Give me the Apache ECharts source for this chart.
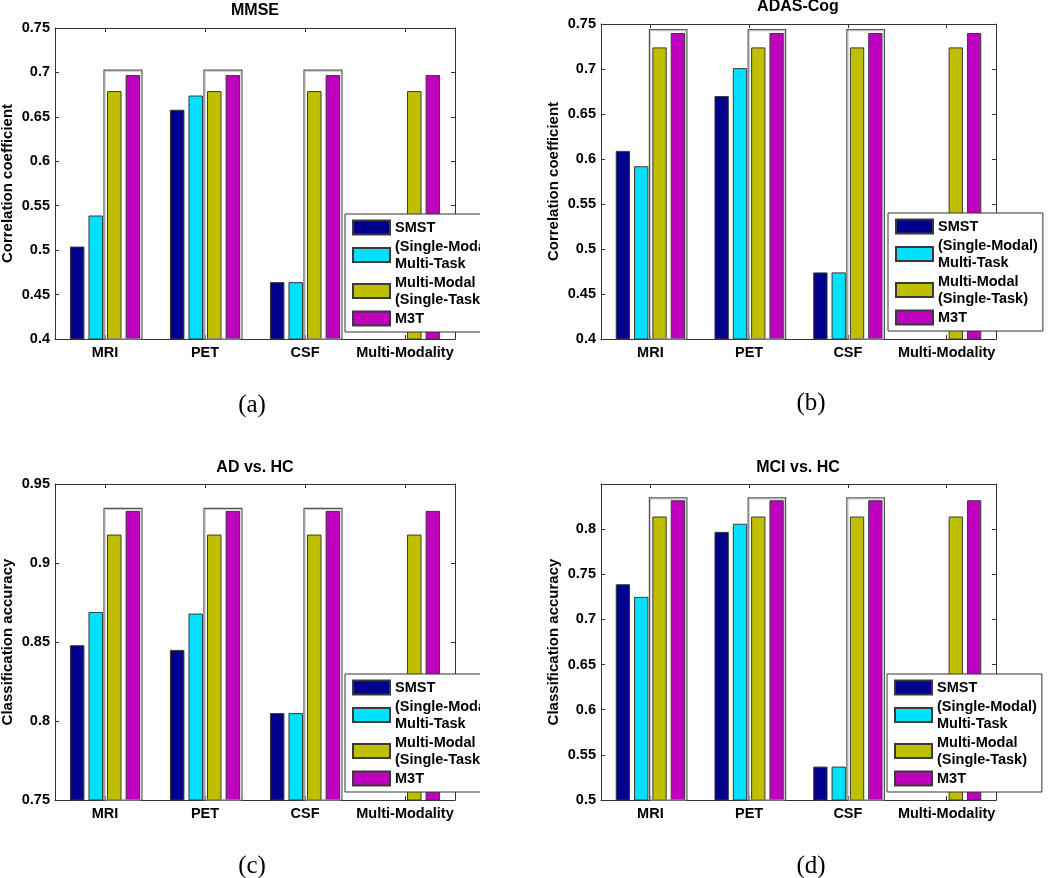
<!DOCTYPE html>
<html>
<head>
<meta charset="utf-8">
<script src="https://cdn.jsdelivr.net/npm/echarts@6/dist/echarts.min.js"></script>
<style>
  html, body { margin: 0; padding: 0; background: #fff; }
  body { width: 1050px; height: 878px; position: relative; overflow: hidden; }
  .panel { position: absolute; }
</style>
</head>
<body>
<div id="pa" class="panel" style="left:0;top:0;width:480px;height:432px;"></div>
<div id="pb" class="panel" style="left:520px;top:0;width:530px;height:432px;"></div>
<div id="pc" class="panel" style="left:0;top:435px;width:480px;height:443px;"></div>
<div id="pd" class="panel" style="left:520px;top:435px;width:530px;height:443px;"></div>
<script>
// ---------------- data ----------------
const CATEGORIES = ['MRI', 'PET', 'CSF', 'Multi-Modality'];
const SERIES_NAMES = ['SMST', '(Single-Modal)\nMulti-Task', 'Multi-Modal\n(Single-Task)', 'M3T'];

// (a) MMSE
const MMSE_SMST = [0.504, 0.658, 0.464, null];
const MMSE_MT   = [0.539, 0.674, 0.464, null];
const MMSE_MM   = [0.679, 0.679, 0.679, 0.679];
const MMSE_M3T  = [0.697, 0.697, 0.697, 0.697];
const MMSE_BOX  = [0.7026, 0.7026, 0.7026];   // highlight boxes on MRI, PET, CSF
const MMSE_YRANGE = [0.4, 0.75];

// (b) ADAS-Cog
const ADAS_SMST = [0.609, 0.670, 0.474, null];
const ADAS_MT   = [0.592, 0.701, 0.474, null];
const ADAS_MM   = [0.724, 0.724, 0.724, 0.724];
const ADAS_M3T  = [0.740, 0.740, 0.740, 0.740];
const ADAS_BOX  = [0.7437, 0.7437, 0.7437];
const ADAS_YRANGE = [0.4, 0.75];

// (c) AD vs. HC
const ADHC_SMST = [0.848, 0.845, 0.805, null];
const ADHC_MT   = [0.869, 0.868, 0.805, null];
const ADHC_MM   = [0.918, 0.918, 0.918, 0.918];
const ADHC_M3T  = [0.933, 0.933, 0.933, 0.933];
const ADHC_BOX  = [0.9346, 0.9346, 0.9346];
const ADHC_YRANGE = [0.75, 0.95];

// (d) MCI vs. HC
const MCIHC_SMST = [0.739, 0.797, 0.537, null];
const MCIHC_MT   = [0.725, 0.806, 0.537, null];
const MCIHC_MM   = [0.814, 0.814, 0.814, 0.814];
const MCIHC_M3T  = [0.832, 0.832, 0.832, 0.832];
const MCIHC_BOX  = [0.8346, 0.8346, 0.8346];
const MCIHC_YRANGE = [0.5, 0.85];

const Y_INTERVAL = 0.05;

// ---------------- styles ----------------
const COLORS = ['#00008c', '#00e1ff', '#bfbf00', '#bf00bf'];
const FONT = 'Liberation Sans';
const AXIS_COLOR = '#333';

function makePanel(domId, p) {
  const chart = echarts.init(document.getElementById(domId), null, { renderer: 'canvas' });
  const yMin = p.yRange[0], yMax = p.yRange[1];
  const values = [p.smst, p.mt, p.mm, p.m3t];
  const labelStyle = { fontFamily: FONT, fontWeight: 'bold', fontSize: 14.5, color: '#000' };

  const bars = values.map((v, i) => ({
    name: SERIES_NAMES[i],
    type: 'bar',
    data: v,
    barWidth: '14.5%',
    barGap: '28%',
    xAxisIndex: 0, yAxisIndex: 0,
    itemStyle: { color: COLORS[i], borderColor: '#3a3a3a', borderWidth: 1 },
    emphasis: { disabled: true },
    animation: false
  }));

  const boxSeries = {
    type: 'custom',
    xAxisIndex: 0, yAxisIndex: 0,
    data: p.box.map((v, i) => [i, v]),
    encode: { x: 0, y: 1 },
    z: 3,
    silent: true,
    animation: false,
    renderItem: function (params, api) {
      const idx = api.value(0);
      const top = api.coord([idx, api.value(1)]);
      const bottom = api.coord([idx, yMin]);
      const band = api.size([1, 0])[0];
      const x0 = top[0] - 0.01 * band;
      const x1 = top[0] + 0.37 * band;
      return {
        type: 'group',
        children: [
          { type: 'rect', shape: { x: x0, y: top[1], width: x1 - x0, height: bottom[1] - top[1] },
            style: { fill: 'none', stroke: '#555', lineWidth: 1.2 } },
          { type: 'rect', shape: { x: x0 + 1.2, y: top[1] + 1.2, width: x1 - x0 - 2.4, height: bottom[1] - top[1] - 1.2 },
            style: { fill: 'none', stroke: '#bbb', lineWidth: 0.8 } }
        ]
      };
    }
  };

  const option = {
    animation: false,
    backgroundColor: '#fff',
    grid: { left: p.grid[0], top: p.grid[1], width: p.grid[2], height: p.grid[3], containLabel: false, outerBoundsMode: 'none' },
    legend: {
      data: SERIES_NAMES,
      orient: 'vertical',
      left: p.legend[0], top: p.legend[1],
      padding: [5, 5, 5, 7],
      itemGap: 2,
      itemWidth: 37, itemHeight: 14,
      icon: 'rect',
      selectedMode: false,
      backgroundColor: '#fff',
      borderColor: '#333', borderWidth: 1, borderRadius: 0,
      textStyle: { fontFamily: FONT, fontWeight: 'bold', fontSize: 14.5, lineHeight: 17, color: '#000' },
      z: 10
    },
    xAxis: [
      { type: 'category', data: CATEGORIES, position: 'bottom',
        axisLine: { show: true, lineStyle: { color: AXIS_COLOR, width: 1 } },
        axisTick: { show: true, inside: true, alignWithLabel: true, length: 4, lineStyle: { color: AXIS_COLOR } },
        axisLabel: Object.assign({ margin: 6, interval: 0 }, labelStyle),
        splitLine: { show: false } },
      { type: 'category', data: CATEGORIES, position: 'top',
        axisLine: { show: true, lineStyle: { color: AXIS_COLOR, width: 1 } },
        axisTick: { show: true, inside: true, alignWithLabel: true, length: 4, lineStyle: { color: AXIS_COLOR } },
        axisLabel: { show: false },
        splitLine: { show: false } }
    ],
    yAxis: [
      { type: 'value', min: yMin, max: yMax, interval: Y_INTERVAL, position: 'left',
        name: p.yName, nameLocation: 'middle', nameGap: 40, nameMoveOverlap: false,
        nameTextStyle: { fontFamily: FONT, fontWeight: 'bold', fontSize: 15, color: '#000' },
        axisLine: { show: true, lineStyle: { color: AXIS_COLOR, width: 1 } },
        axisTick: { show: true, inside: true, length: 4, lineStyle: { color: AXIS_COLOR } },
        axisLabel: Object.assign({ margin: 5, showMaxLabel: p.showMaxLabel !== false }, labelStyle),
        splitLine: { show: false } },
      { type: 'value', min: yMin, max: yMax, interval: Y_INTERVAL, position: 'right',
        axisLine: { show: true, lineStyle: { color: AXIS_COLOR, width: 1 } },
        axisTick: { show: true, inside: true, length: 4, lineStyle: { color: AXIS_COLOR } },
        axisLabel: { show: false },
        splitLine: { show: false } }
    ],
    graphic: [
      { type: 'text', x: p.title[1], y: p.title[2], silent: true,
        style: { text: p.title[0], font: 'bold 16px "' + FONT + '"', fill: '#000',
                 textAlign: 'center', textVerticalAlign: 'middle', align: 'center', verticalAlign: 'middle' } },
      { type: 'text', x: p.caption[1], y: p.caption[2], silent: true,
        style: { text: p.caption[0], font: '25px "Liberation Serif"', fill: '#000',
                 textAlign: 'center', textVerticalAlign: 'middle', align: 'center', verticalAlign: 'middle' } }
    ],
    series: bars.concat([boxSeries])
  };
  chart.setOption(option);
  return chart;
}

makePanel('pa', {
  smst: MMSE_SMST, mt: MMSE_MT, mm: MMSE_MM, m3t: MMSE_M3T, box: MMSE_BOX, yRange: MMSE_YRANGE,
  yName: 'Correlation coefficient', grid: [55, 28, 400, 311], legend: [345, 214],
  title: ['MMSE', 255, 11], caption: ['(a)', 252, 405]
});
makePanel('pb', {
  smst: ADAS_SMST, mt: ADAS_MT, mm: ADAS_MM, m3t: ADAS_M3T, box: ADAS_BOX, yRange: ADAS_YRANGE,
  yName: 'Correlation coefficient', grid: [81, 24, 395, 315], legend: [368, 213],
  title: ['ADAS-Cog', 278, 7], caption: ['(b)', 291, 403]
});
makePanel('pc', {
  smst: ADHC_SMST, mt: ADHC_MT, mm: ADHC_MM, m3t: ADHC_M3T, box: ADHC_BOX, yRange: ADHC_YRANGE,
  yName: 'Classification accuracy', grid: [55, 49, 400, 316], legend: [345, 239],
  title: ['AD vs. HC', 255, 33], caption: ['(c)', 252, 431]
});
makePanel('pd', {
  smst: MCIHC_SMST, mt: MCIHC_MT, mm: MCIHC_MM, m3t: MCIHC_M3T, box: MCIHC_BOX, yRange: MCIHC_YRANGE,
  yName: 'Classification accuracy', grid: [81, 49, 395, 316], legend: [367, 239],
  title: ['MCI vs. HC', 278, 33], caption: ['(d)', 291, 431], showMaxLabel: false
});
</script>
</body>
</html>
